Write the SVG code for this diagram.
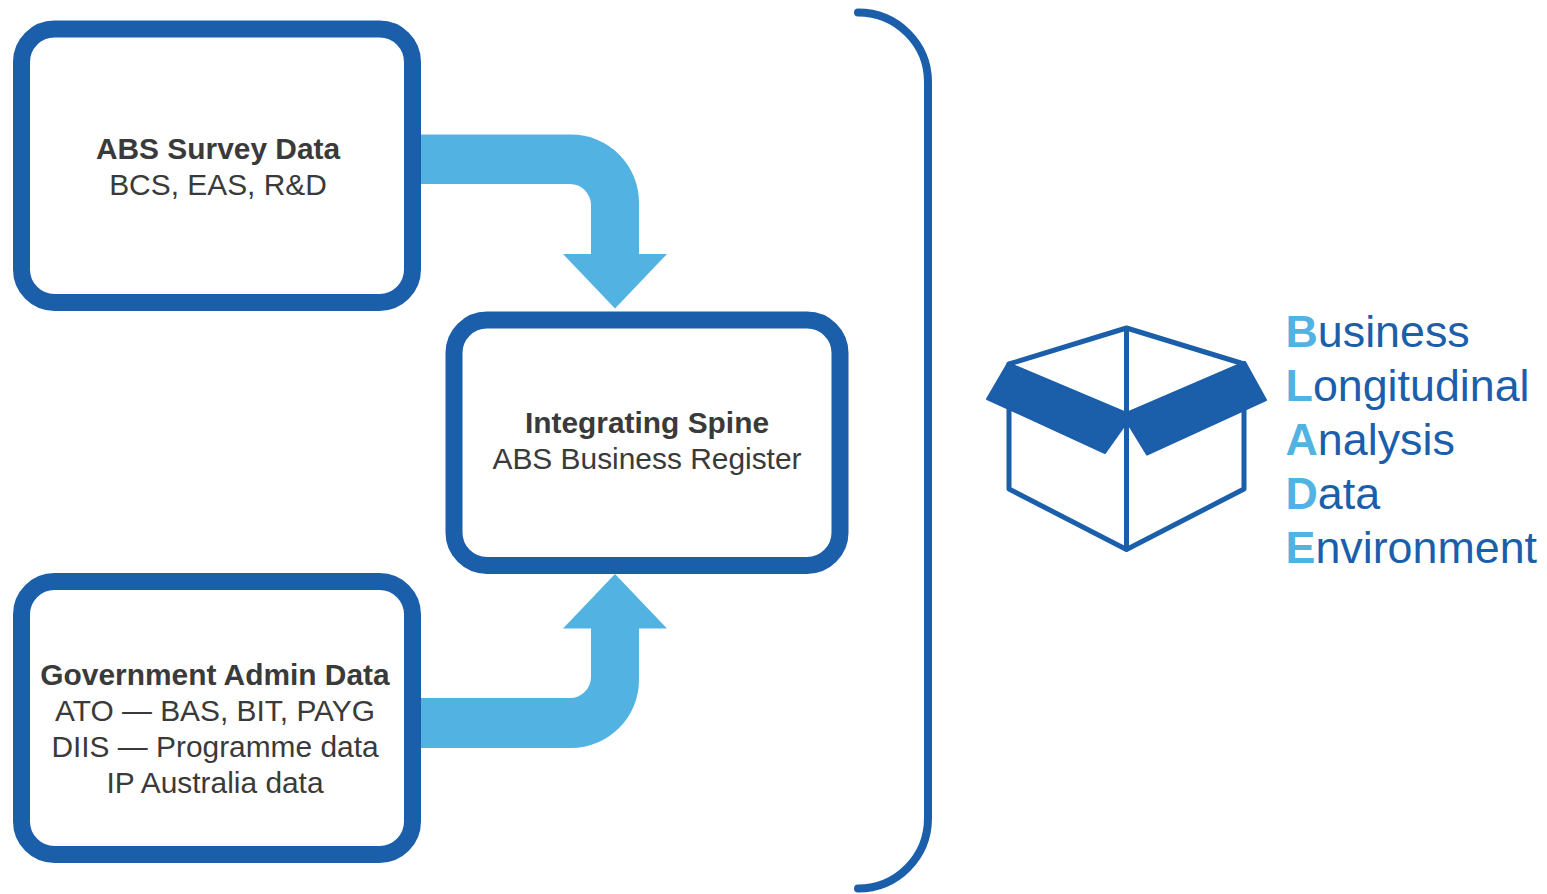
<svg xmlns="http://www.w3.org/2000/svg" width="1547" height="894" viewBox="0 0 1547 894">
<style>
.box{fill:#fff;stroke:#1b5eaa;stroke-width:17}
.arrow{fill:#52b3e2}
.t{font-family:"Liberation Sans",Arial,sans-serif;font-size:29.9px;fill:#3a3a3a;text-anchor:middle}
.b{font-weight:bold}
.bl{font-family:"Liberation Sans",Arial,sans-serif;font-size:44.8px;fill:#1b5eaa}
.bl tspan{fill:#52b3e2;font-weight:bold}
.line{fill:none;stroke:#1b5eaa;stroke-linejoin:round;stroke-linecap:round}
</style>
<rect width="1547" height="894" fill="#fff"/>
<g id="connectors">
<path class="arrow" d="M420 134.500H571A68 68 0 0 1 639 202.500V254H667L615 308.500L563 254H591V205A21 21 0 0 0 570 184H420Z"/>
<path class="arrow" d="M420 748H571A68 68 0 0 0 639 680V628.500H667L615 574L563 628.500H591V677A21 21 0 0 1 570 698H420Z"/>
</g>
<g id="node-survey">
<rect class="box" x="21.500" y="29" width="391" height="273.500" rx="33"/>
<text class="t b" x="218" y="159">ABS Survey Data</text>
<text class="t" x="218" y="195">BCS, EAS, R&amp;D</text>
</g>
<g id="node-spine">
<rect class="box" x="454" y="320" width="386" height="245.500" rx="33"/>
<text class="t b" x="647" y="433">Integrating Spine</text>
<text class="t" x="647" y="469">ABS Business Register</text>
</g>
<g id="node-admin">
<rect class="box" x="21.500" y="581.500" width="391" height="273" rx="33"/>
<text class="t b" x="215" y="685">Government Admin Data</text>
<text class="t" x="215" y="721">ATO — BAS, BIT, PAYG</text>
<text class="t" x="215" y="757">DIIS — Programme data</text>
<text class="t" x="215" y="793">IP Australia data</text>
</g>
<g id="bracket">
<path class="line" stroke-width="8" d="M858 12.500C897 12.500 928 44 928 82V818C928 857 897 888.500 858 888.500"/>
</g>
<g id="box-icon">
<path class="line" stroke-width="5" d="M1126.500 328L1244 364V489L1126.500 549.500L1009 489V364ZM1126.500 328V549.500"/>
<path d="M1008 363L1126.500 413L1245 362L1266 400L1147 454.500L1127 422L1105 453L987 399Z" fill="#1b5eaa" stroke="#1b5eaa" stroke-width="2" stroke-linejoin="round"/>
</g>
<g id="title">
<text class="bl" x="1285.500" y="346.500"><tspan>B</tspan>usiness</text>
<text class="bl" x="1285.500" y="400.500"><tspan>L</tspan>ongitudinal</text>
<text class="bl" x="1285.500" y="454.500"><tspan>A</tspan>nalysis</text>
<text class="bl" x="1285.500" y="508.500"><tspan>D</tspan>ata</text>
<text class="bl" x="1285.500" y="562.500"><tspan>E</tspan>nvironment</text>
</g>
</svg>
